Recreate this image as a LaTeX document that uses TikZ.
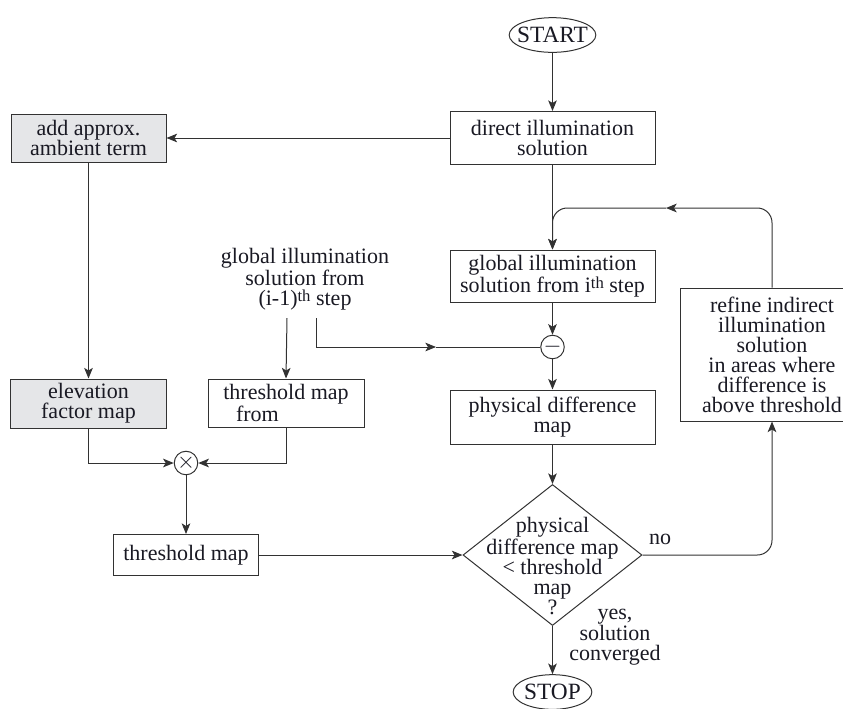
\documentclass[tikz,border=0pt]{standalone}
\usepackage{fontspec}
\setmainfont{Liberation Serif}
\usetikzlibrary{shapes.geometric,arrows.meta}

\definecolor{lineGrey}{RGB}{50,50,50}
\definecolor{boxGrey}{RGB}{229,230,232}
\definecolor{textDark}{RGB}{25,25,35}

\newcommand{\flowfont}{\fontsize{16.5}{15}\selectfont}
\newcommand{\termfont}{\fontsize{17.5}{17.5}\selectfont}
\newcommand{\thsup}{\raisebox{2.5pt}{\fontsize{12.5}{12.5}\selectfont th}}

\tikzset{every picture/.style={line width=0.75pt}}
\tikzset{
  flowbox/.style={draw=lineGrey, fill=white, inner sep=0.75pt, align=center, text=textDark, font=\flowfont},
  greybox/.style={flowbox, fill=boxGrey},
  terminal/.style={ellipse, draw=lineGrey, inner xsep=-3.5pt, inner ysep=0pt, minimum width=59pt, minimum height=26pt, text=textDark, font=\termfont},
  decision/.style={diamond, draw=lineGrey, inner sep=0pt, minimum width=134.25pt, minimum height=105.75pt},
  opcircle/.style={circle, draw=lineGrey, inner sep=0pt, minimum size=15.5pt, text=textDark, font=\fontsize{17}{17}\selectfont},
  flowtext/.style={align=center, inner sep=0.75pt, text=textDark, font=\flowfont},
  flow/.style={draw=lineGrey, -{Stealth[length=8pt,width=6.5pt,inset=2pt]}},
  plain/.style={draw=lineGrey},
}

\begin{document}
\begin{tikzpicture}[x=0.75pt,y=0.75pt,yscale=-1,xscale=1]
%set diagram left start at 0, and has height of 708
\useasboundingbox (0,0) rectangle (843,708);

%Terminals
\node [terminal] (start) at (552.5,35) {START};
\node [terminal] (stop) at (552.5,692) {STOP};

%Main column
\node [flowbox, minimum width=153.75pt, minimum height=39.75pt] (dil) at (552.5,138) {direct illumination\\solution};
\node [flowbox, minimum width=153.75pt, minimum height=39pt] (gith) at (552.5,276) {global illumination\\solution from i\thsup{} step};
\node [opcircle] (minus) at (552.5,347) {$-$};
\node [flowbox, minimum width=153.75pt, minimum height=40.5pt] (phys) at (552.5,417) {physical difference\\map};
\node [decision] (dec) at (552.5,555) {};
\node [flowtext] (dectxt) at (552.5,566) {physical\\difference map\\{<} threshold\\map\\?};

%Left column
\node [greybox, minimum width=116.25pt, minimum height=36pt] (amb) at (88.5,138) {add approx.\\ambient term};
\node [greybox, minimum width=117pt, minimum height=36.75pt] (elev) at (88.5,403.5) {elevation\\factor map};
\node [flowtext] (prev) at (305,279) {global illumination\\solution from\\(i-1)\thsup{} step};
\node [flowbox, minimum width=117pt, minimum height=36pt] (thrfrom) at (286,403) {threshold map\\from\hspace*{2.6em}};
\node [opcircle] (times) at (186,463) {$\times$};
\node [flowbox, minimum width=108.75pt, minimum height=30.75pt] (thr) at (186,555) {threshold map};

%Right column
\node [flowbox, minimum width=138pt, minimum height=99.75pt] (refine) at (772,354.5) {refine indirect\\illumination\\solution\\in areas where\\difference is\\above threshold};

% Text Node
\node [flowtext] (no) at (660,539) {no};
\node [flowtext] (yes) at (615,637) {yes,\\solution\\converged};

%Free ends
\coordinate (p1) at (287,318);
\coordinate (p2) at (316,318);
\coordinate (pmid) at (436,347);
\coordinate (looptop) at (666,208);

%Straight Lines
\draw [flow] (start) -- (dil);
\draw [flow] (dil.west) -- (amb.east);
\draw [flow] (amb.south) -- (elev.north);
\draw [flow] (dil.south) -- (gith.north);
\draw [flow] (gith.south) -- (minus.north);
\draw [flow] (minus.south) -- (phys.north);
\draw [flow] (phys.south) -- (dec.north);
\draw [flow] (dec.south) -- (stop.north);
\draw [flow] (p1) -- (thrfrom.north);
\draw [flow] (p2) |- (pmid);
\draw [plain] (pmid) -- (minus.west);
\draw [flow] (elev.south) |- (times.west);
\draw [flow] (thrfrom.south) |- (times.east);
\draw [flow] (times.south) -- (thr.north);
\draw [flow] (thr.east) -- (dec.west);

%Curve Lines
\draw [flow, rounded corners=11pt] (dec.east) -| (refine.south);
\draw [flow, rounded corners=11pt] (refine.north) |- (looptop);
\draw [flow, rounded corners=11pt] (looptop) -| (gith.north);

\end{tikzpicture}
\end{document}
